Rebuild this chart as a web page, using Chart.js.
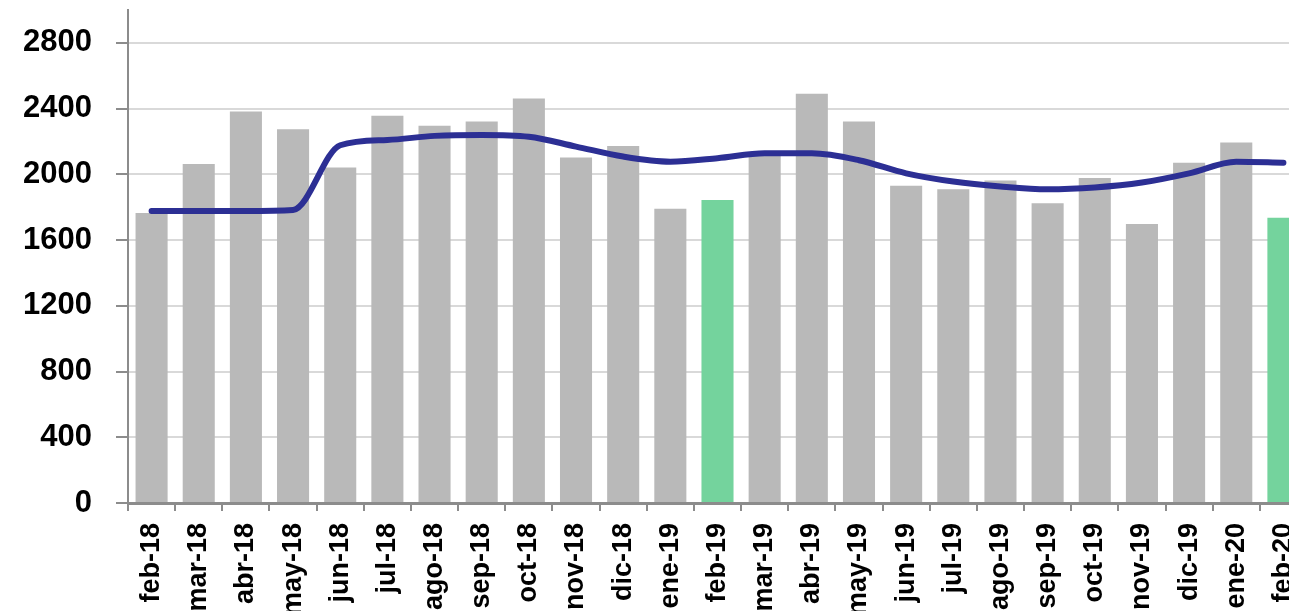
<!DOCTYPE html>
<html>
<head>
<meta charset="utf-8">
<script src="https://cdn.jsdelivr.net/npm/chart.js@4.4.1/dist/chart.umd.min.js"></script>
<style>
  html, body { margin: 0; padding: 0; background: #fff; overflow: hidden; }
  #wrap { width: 1307px; height: 611px; }
</style>
</head>
<body>
<div id="wrap"><canvas id="ventas"></canvas></div>
<script>
// months shown on the x axis
const months = [
  "feb-18", "mar-18", "abr-18", "may-18", "jun-18", "jul-18", "ago-18", "sep-18",
  "oct-18", "nov-18", "dic-18", "ene-19", "feb-19", "mar-19", "abr-19", "may-19",
  "jun-19", "jul-19", "ago-19", "sep-19", "oct-19", "nov-19", "dic-19", "ene-20", "feb-20"
];

// monthly values (bars)
const monthly = [
  1765, 2063, 2382, 2274, 2041, 2357, 2296, 2321,
  2461, 2102, 2173, 1791, 1844, 2112, 2491, 2321,
  1931, 1909, 1962, 1824, 1978, 1698, 2071, 2194, 1736
];

// smoothed trend (line)
const trend = [
  1777, 1777, 1777, 1783, 2177, 2209, 2234, 2240,
  2229, 2169, 2108, 2077, 2098, 2128, 2128, 2086,
  2006, 1956, 1926, 1909, 1920, 1950, 2006, 2077, 2071
];

// months highlighted in green
const highlighted = ["feb-19", "feb-20"];

const yTicks = [0, 400, 800, 1200, 1600, 2000, 2400, 2800];

const barColors = months.map(m => highlighted.includes(m) ? "#74d39d" : "#b9b9b9");

new Chart(document.getElementById("ventas"), {
  type: "bar",
  data: {
    labels: months,
    datasets: [
      {
        type: "line",
        data: trend,
        borderColor: "#2c2f94",
        borderWidth: 6,
        pointRadius: 0,
        cubicInterpolationMode: "monotone",
        borderCapStyle: "round",
        order: 0
      },
      {
        data: monthly,
        backgroundColor: barColors,
        barPercentage: 0.68,
        categoryPercentage: 1,
        order: 1
      }
    ]
  },
  options: {
    responsive: true,
    maintainAspectRatio: false,
    animation: false,
    layout: { padding: { top: 10, right: 0, left: 0, bottom: 0 } },
    plugins: { legend: { display: false }, tooltip: { enabled: false } },
    scales: {
      x: {
        grid: { drawOnChartArea: false, drawTicks: true, tickLength: 8, tickColor: "#8c8c8c", lineWidth: 2 },
        border: { color: "#8c8c8c", width: 3 },
        ticks: {
          color: "#000",
          minRotation: 90,
          maxRotation: 90,
          padding: 12,
          font: { family: "'Liberation Sans', Arial, sans-serif", size: 27, weight: "bold" }
        },
        afterFit: scale => {
          scale.height = 108;
          scale.paddingLeft = 0;
          scale.paddingRight = 0;
        }
      },
      y: {
        min: 0,
        max: 3000,
        afterBuildTicks: scale => {
          scale.ticks = yTicks.map(v => ({ value: v }));
        },
        grid: { color: "#d9d9d9", lineWidth: 2, tickColor: "#8c8c8c", tickLength: 12 },
        border: { color: "#8c8c8c", width: 2 },
        ticks: {
          color: "#000",
          padding: 24,
          callback: v => String(v),
          font: { family: "'Liberation Sans', Arial, sans-serif", size: 31, weight: "bold" }
        },
        afterFit: scale => {
          scale.width = 128;
          scale.paddingTop = 0;
          scale.paddingBottom = 0;
        }
      }
    }
  }
});
</script>
</body>
</html>
